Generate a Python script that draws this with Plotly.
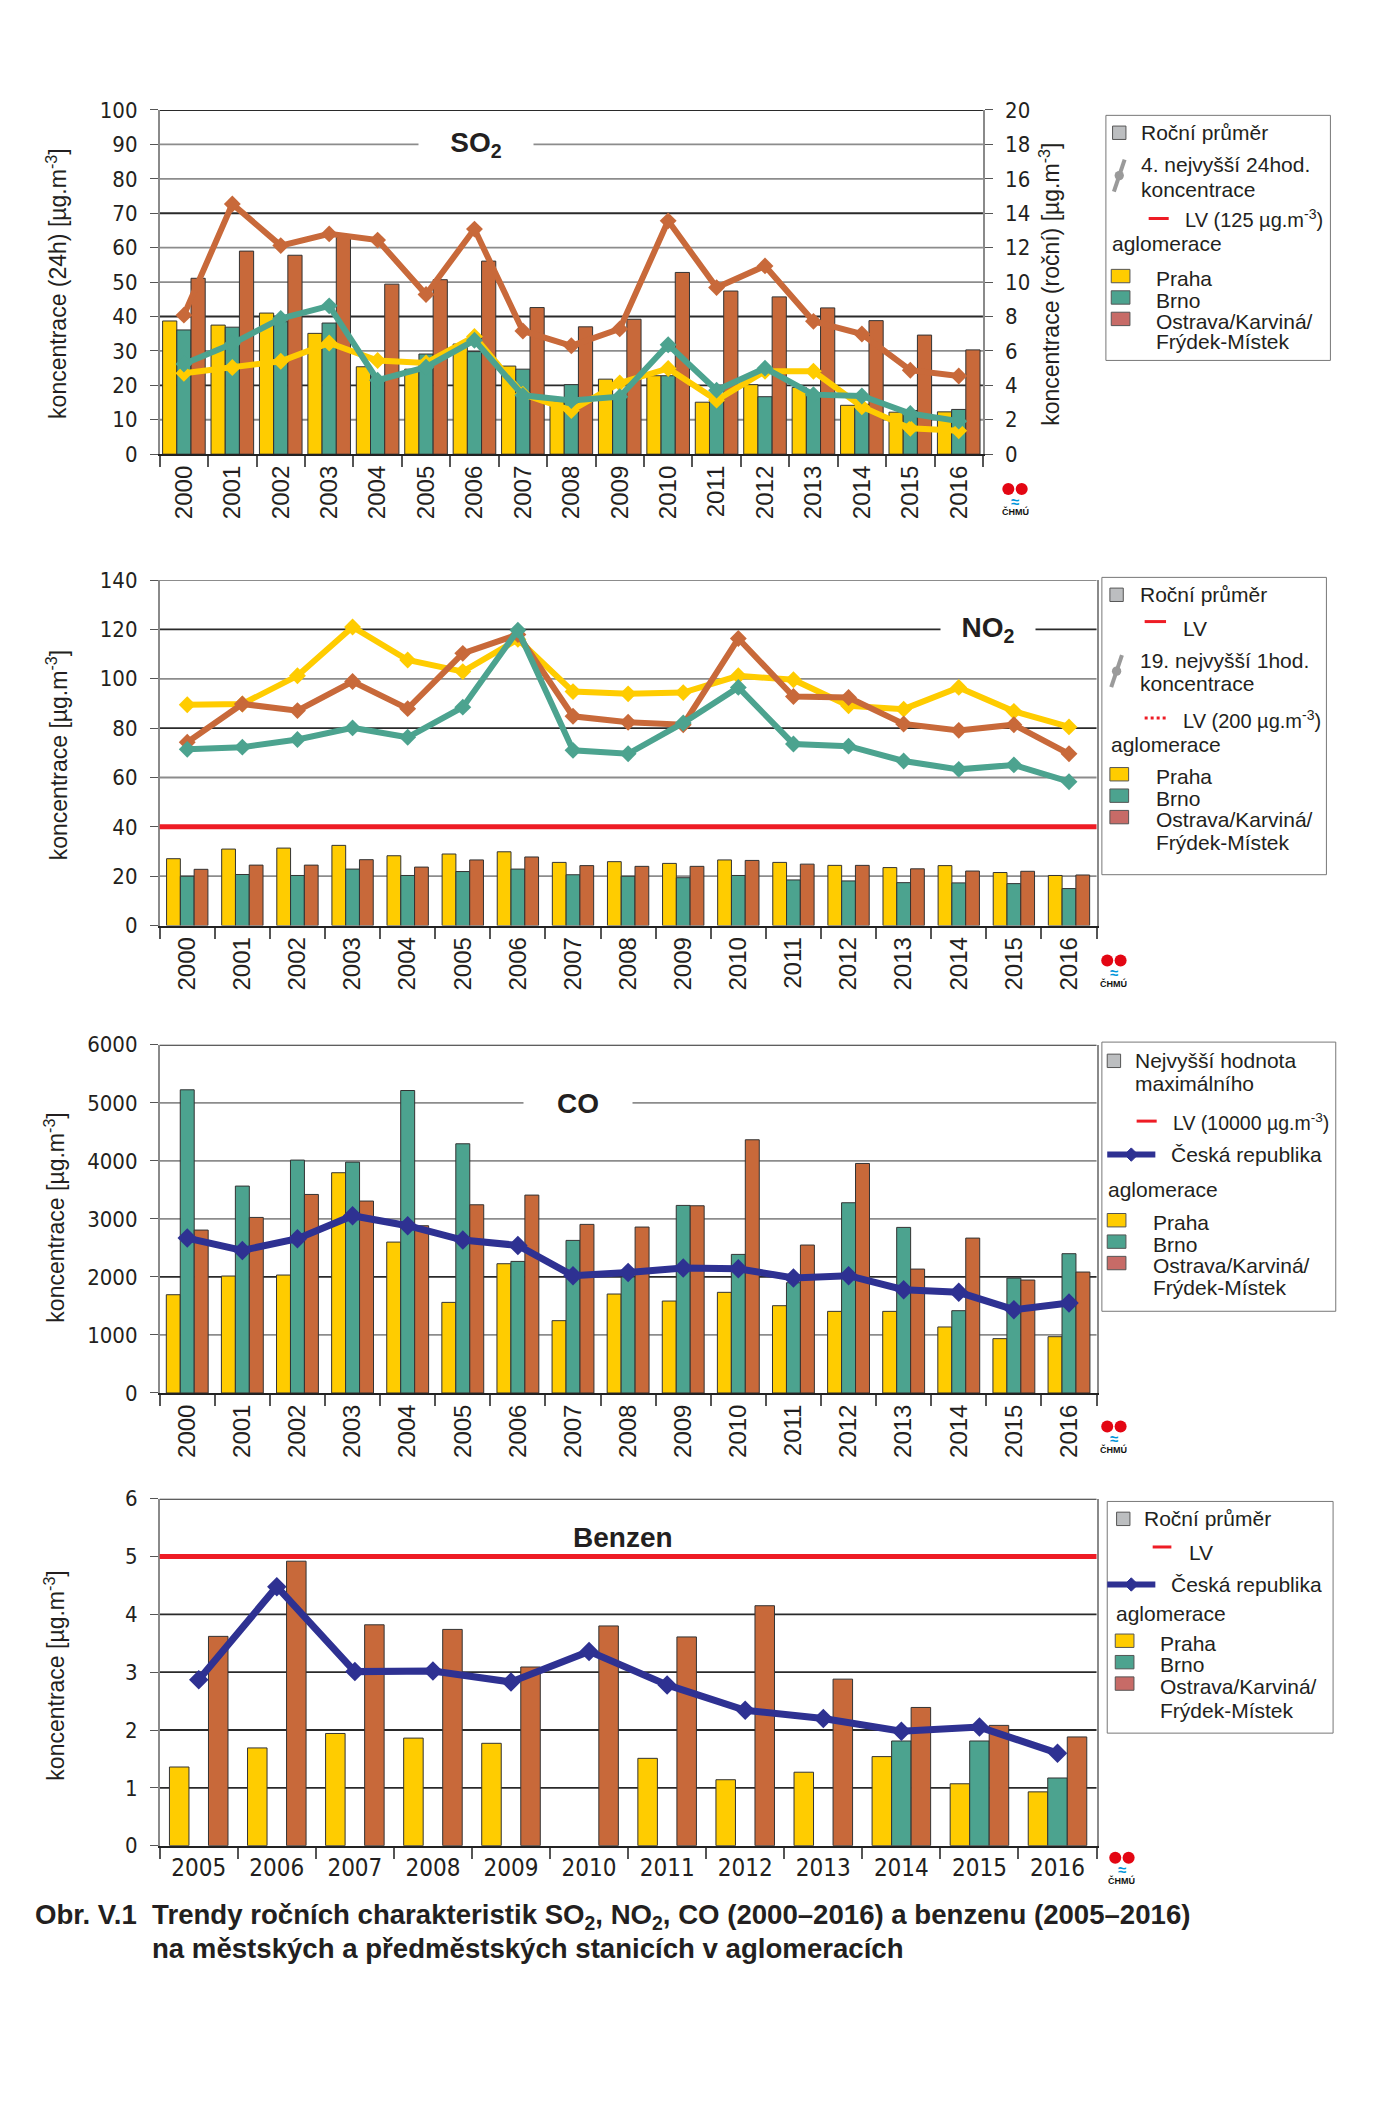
import plotly.graph_objects as go

# ---------------- DATA ----------------
years = [str(y) for y in range(2000, 2017)]
years_bz = [str(y) for y in range(2005, 2017)]

# SO2 - annual average (right axis, µg.m-3)
so2_avg_praha = [7.74, 7.5, 8.2, 7.02, 5.08, 4.94, 6.4, 5.12, 3.1, 4.36, 4.56, 3.02, 4.04, 3.88, 2.84, 2.44, 2.46]
so2_avg_brno = [7.22, 7.38, 7.7, 7.62, 4.5, 5.82, 5.96, 4.94, 4.04, 3.3, 4.56, 3.2, 3.34, 3.5, 2.9, 2.54, 2.6]
so2_avg_ostrava = [10.22, 11.8, 11.56, 12.6, 9.88, 10.14, 11.22, 8.52, 7.4, 7.84, 10.56, 9.48, 9.14, 8.5, 7.76, 6.92, 6.06]
# SO2 - 4th highest 24h concentration (left axis)
so2_24h_praha = [23.5, 25.2, 27.0, 32.3, 27.2, 26.5, 34.2, 17.4, 12.7, 20.7, 24.9, 15.7, 24.1, 24.1, 13.8, 7.5, 6.8]
so2_24h_brno = [26.2, 32.1, 39.4, 43.1, 21.5, 25.3, 33.1, 17.1, 15.6, 16.7, 31.8, 18.6, 25.0, 17.3, 16.9, 11.8, 9.6]
so2_24h_ostrava = [40.4, 72.7, 60.6, 64.0, 62.2, 46.4, 65.4, 35.8, 31.5, 36.4, 67.8, 48.4, 54.7, 38.6, 34.9, 24.4, 22.7]

# NO2 - annual average
no2_avg_praha = [27.1, 31.0, 31.4, 32.5, 28.3, 29.0, 29.9, 25.6, 25.9, 25.2, 26.6, 25.6, 24.4, 23.5, 24.3, 21.5, 20.3]
no2_avg_brno = [20.0, 20.7, 20.3, 22.9, 20.3, 21.9, 22.9, 20.6, 20.0, 19.4, 20.3, 18.5, 18.1, 17.4, 17.3, 17.0, 15.0]
no2_avg_ostrava = [22.8, 24.5, 24.5, 26.7, 23.7, 26.6, 27.8, 24.3, 24.0, 24.0, 26.4, 24.9, 24.4, 23.0, 22.1, 22.0, 20.5]
# NO2 - 19th highest 1h concentration
no2_1h_praha = [89.5, 89.8, 101.2, 121.0, 107.6, 102.9, 116.0, 94.8, 93.9, 94.4, 101.2, 99.6, 89.1, 87.7, 96.5, 86.8, 80.5]
no2_1h_brno = [71.4, 72.3, 75.4, 80.1, 76.3, 88.5, 119.7, 71.0, 69.6, 82.1, 96.5, 73.6, 72.7, 66.7, 63.3, 65.1, 58.3]
no2_1h_ostrava = [74.3, 89.8, 87.1, 98.9, 87.9, 110.3, 117.9, 84.8, 82.4, 81.4, 116.3, 92.8, 92.4, 81.7, 79.1, 81.4, 69.6]
no2_lv = 40

# CO - highest maximum value
co_max_praha = [1693, 2015, 2032, 3795, 2600, 1561, 2227, 1246, 1705, 1584, 1734, 1504, 1406, 1406, 1137, 936, 970]
co_max_brno = [5224, 3565, 4013, 3978, 5212, 4294, 2267, 2629, 2000, 3232, 2388, 1900, 3278, 2853, 1418, 1980, 2400]
co_max_ostrava = [2807, 3025, 3421, 3307, 2882, 3243, 3410, 2905, 2859, 3226, 4363, 2549, 3955, 2135, 2669, 1946, 2084]
co_cr = [2669, 2457, 2658, 3054, 2882, 2635, 2543, 2021, 2078, 2153, 2141, 1981, 2021, 1780, 1734, 1435, 1550]

# Benzene - annual average
bz_praha = [1.36, 1.69, 1.94, 1.86, 1.77, None, 1.51, 1.14, 1.27, 1.54, 1.07, 0.93]
bz_brno = [None, None, None, None, None, None, None, None, None, 1.81, 1.81, 1.17]
bz_ostrava = [3.62, 4.92, 3.82, 3.74, 3.09, 3.80, 3.61, 4.15, 2.88, 2.39, 2.08, 1.88]
bz_cr = [2.87, 4.48, 3.01, 3.02, 2.83, 3.36, 2.78, 2.34, 2.20, 1.98, 2.05, 1.60]
bz_lv = 5

# ---------------- STYLE ----------------
W, H = 1374, 2101
S = W / 1024.0          # layout was measured on a 1024-wide view
HD = H / S

C_PRAHA = "#FFCC00"
C_BRNO = "#4CA38F"
C_OSTR = "#C8693A"
C_OSTR_LEG = "#C76B67"
C_CR = "#2E3192"
C_RED = "#EE1C25"
G_LT = "#8c8c8c"
G_DK = "#2a2a2a"
C_TXT = "#231F20"
FONT = "Liberation Sans, Arial, sans-serif"
NARROW = "Liberation Sans Narrow, Arial Narrow, DejaVu Sans Condensed, Liberation Sans, sans-serif"


def px(xd):
    return ((xd - 3.5) / 1.004) / 1024.0


def py(yd):
    return 1 - ((yd - 13.8) / 0.99) / HD


fig = go.Figure()


def add_bars(xs, series, colors, xa, ya, group):
    w = group / 3.0
    for i, (vals, col) in enumerate(zip(series, colors)):
        fig.add_trace(go.Bar(
            x=xs, y=vals, xaxis=xa, yaxis=ya, width=w, offset=-group / 2 + i * w,
            marker=dict(color=col, line=dict(color="#333333", width=1)),
            showlegend=False, hoverinfo="x+y"))


def add_line(xs, vals, col, xa, ya, lw=6, ms=13):
    fig.add_trace(go.Scatter(
        x=xs, y=vals, xaxis=xa, yaxis=ya, mode="lines+markers",
        line=dict(color=col, width=lw),
        marker=dict(symbol="diamond", size=ms, color=col),
        showlegend=False, hoverinfo="x+y"))


# Panel 1: SO2
add_bars(years, [so2_avg_praha, so2_avg_brno, so2_avg_ostrava], [C_PRAHA, C_BRNO, C_OSTR], "x", "y", 0.88)
add_line(years, so2_24h_praha, C_PRAHA, "x", "y2")
add_line(years, so2_24h_ostrava, C_OSTR, "x", "y2")
add_line(years, so2_24h_brno, C_BRNO, "x", "y2")

# Panel 2: NO2
add_bars(years, [no2_avg_praha, no2_avg_brno, no2_avg_ostrava], [C_PRAHA, C_BRNO, C_OSTR], "x2", "y3", 0.75)
add_line(years, no2_1h_praha, C_PRAHA, "x2", "y3")
add_line(years, no2_1h_ostrava, C_OSTR, "x2", "y3")
add_line(years, no2_1h_brno, C_BRNO, "x2", "y3")

# Panel 3: CO
add_bars(years, [co_max_praha, co_max_brno, co_max_ostrava], [C_PRAHA, C_BRNO, C_OSTR], "x3", "y4", 0.76)
add_line(years, co_cr, C_CR, "x3", "y4", lw=7, ms=15)

# Panel 4: Benzene
add_bars(years_bz, [bz_praha, bz_brno, bz_ostrava], [C_PRAHA, C_BRNO, C_OSTR], "x4", "y5", 0.75)
add_line(years_bz, bz_cr, C_CR, "x4", "y5", lw=7, ms=15)

# ---------------- AXES ----------------
panels = {
    1: dict(x=(117, 733), y=(81, 338)),
    2: dict(x=(117, 818), y=(432, 690)),
    3: dict(x=(117, 818), y=(779, 1039)),
    4: dict(x=(117, 818), y=(1118, 1377)),
}


def xdom(p):
    return [px(panels[p]["x"][0]), px(panels[p]["x"][1])]


def ydom(p):
    return [py(panels[p]["y"][1]), py(panels[p]["y"][0])]


tickfont_y = dict(family=NARROW, size=22, color=C_TXT)
tickfont_x = dict(family=FONT, size=24, color=C_TXT)


def xaxis_cfg(p, anchor, n, rotated=True):
    d = dict(domain=xdom(p), anchor=anchor, type="category", tickson="boundaries",
             range=[-0.5, n - 0.5],
             ticks="outside", ticklen=11, tickcolor="#555", tickwidth=1.5,
             showline=True, linecolor="#222", linewidth=2, showgrid=False,
             tickfont=tickfont_x, fixedrange=True)
    if rotated:
        d["tickangle"] = -90
    else:
        d["tickfont"] = dict(family=NARROW, size=24, color=C_TXT)
    return d


def yaxis_cfg(p, anchor, rng, dtick, side="left", mirror=True):
    return dict(domain=ydom(p), anchor=anchor, range=rng, dtick=dtick, side=side,
                showgrid=False, showline=True, linecolor="#8a8a8a", linewidth=1.5, mirror=mirror,
                ticks="outside", ticklen=8, tickcolor="#555", ticklabelstandoff=8,
                tickfont=tickfont_y, zeroline=False, fixedrange=True)


y2cfg = yaxis_cfg(1, "x", [0, 100], 10, side="left", mirror=False)
y2cfg.pop("domain")
y2cfg["overlaying"] = "y"

fig.update_layout(
    width=W, height=H, margin=dict(l=0, r=0, t=0, b=0),
    paper_bgcolor="white", plot_bgcolor="white", barmode="overlay",
    showlegend=False, font=dict(family=FONT, color=C_TXT),
    xaxis=xaxis_cfg(1, "y", len(years)),
    yaxis=yaxis_cfg(1, "x", [0, 20], 2, side="right", mirror=False),
    yaxis2=y2cfg,
    xaxis2=xaxis_cfg(2, "y3", len(years)),
    yaxis3=yaxis_cfg(2, "x2", [0, 140], 20),
    xaxis3=xaxis_cfg(3, "y4", len(years)),
    yaxis4=yaxis_cfg(3, "x3", [0, 6000], 1000),
    xaxis4=xaxis_cfg(4, "y5", len(years_bz), rotated=False),
    yaxis5=yaxis_cfg(4, "x4", [0, 6], 1),
)

shapes = []
annots = []


# Gridlines (mixed light / dark as in the original print)
def grid(xa, ya, levels, colors):
    for v, c in zip(levels, colors):
        shapes.append(dict(type="line", xref=xa + " domain", yref=ya, x0=0, x1=1, y0=v, y1=v,
                           layer="below", line=dict(color=c, width=1.8)))


grid("x", "y2", [10, 20, 30, 40, 50, 60, 70, 80, 90, 100],
     [G_LT, G_DK, G_LT, G_DK, G_LT, G_LT, G_DK, G_LT, G_LT, G_DK])
grid("x2", "y3", [20, 60, 80, 100, 120, 140],
     [G_LT, G_LT, G_DK, G_LT, G_DK, G_LT])
grid("x3", "y4", [1000, 2000, 3000, 4000, 5000, 6000],
     [G_LT, G_DK, G_LT, G_LT, G_LT, G_DK])
grid("x4", "y5", [1, 2, 3, 4, 6],
     [G_DK, G_DK, G_DK, G_DK, G_DK])

# Limit value lines
shapes.append(dict(type="line", xref="x2 domain", yref="y3", x0=0, x1=1, y0=no2_lv, y1=no2_lv,
                   line=dict(color=C_RED, width=5)))
shapes.append(dict(type="line", xref="x4 domain", yref="y5", x0=0, x1=1, y0=bz_lv, y1=bz_lv,
                   line=dict(color=C_RED, width=5)))


# Panel titles
def title(text, xd, yd, w):
    annots.append(dict(text=text, x=px(xd), y=py(yd), xref="paper", yref="paper",
                       xanchor="center", yanchor="middle",
                       showarrow=False, bgcolor="white" if w else None, width=w,
                       font=dict(family=FONT, size=28, color=C_TXT)))


title("<b>SO<sub>2</sub></b>", 354, 107, 112)
title("<b>NO<sub>2</sub></b>", 737, 469, 92)
title("<b>CO</b>", 430, 823, 106)
title("<b>Benzen</b>", 464, 1147, None)


# Axis titles
def ytitle(text, xd, yd):
    annots.append(dict(text=text, x=px(xd), y=py(yd), xref="paper", yref="paper",
                       xanchor="center", yanchor="middle",
                       showarrow=False, textangle=-90,
                       font=dict(family=FONT, size=23, color=C_TXT)))


ytitle("koncentrace (24h) [µg.m<sup>-3</sup>]", 40, 211)
ytitle("koncentrace (roční) [µg.m<sup>-3</sup>]", 783, 211)
ytitle("koncentrace [µg.m<sup>-3</sup>]", 40, 563)
ytitle("koncentrace [µg.m<sup>-3</sup>]", 38, 908)
ytitle("koncentrace [µg.m<sup>-3</sup>]", 38, 1250)


# ---------------- LEGENDS (drawn) ----------------
def ltext(text, xd, yd, size=21):
    annots.append(dict(text=text, x=px(xd), y=py(yd), xref="paper", yref="paper",
                       xanchor="left", yanchor="middle", showarrow=False,
                       font=dict(family=FONT, size=size, color=C_TXT)))


def box(x0, y0, x1, y1, fill, line="#555", lw=1):
    shapes.append(dict(type="rect", xref="paper", yref="paper",
                       x0=px(x0), x1=px(x1), y0=py(y1), y1=py(y0),
                       fillcolor=fill, line=dict(color=line, width=lw)))


def hline(x0, x1, yd, col, w=3, dash="solid"):
    shapes.append(dict(type="line", xref="paper", yref="paper", x0=px(x0), x1=px(x1),
                       y0=py(yd), y1=py(yd), line=dict(color=col, width=w, dash=dash)))


def grey_symbol(xc, yc):
    shapes.append(dict(type="line", xref="paper", yref="paper", x0=px(xc - 4), x1=px(xc + 4),
                       y0=py(yc + 12), y1=py(yc - 12), line=dict(color="#9a9a9a", width=4)))
    shapes.append(dict(type="circle", xref="paper", yref="paper", x0=px(xc - 3.5), x1=px(xc + 3.5),
                       y0=py(yc + 3.5), y1=py(yc - 3.5), fillcolor="#9a9a9a", line=dict(width=0)))


def cr_symbol(x0, x1, yc):
    hline(x0, x1, yc, C_CR, w=6)
    xm = (x0 + x1) / 2
    d = 5
    shapes.append(dict(type="path", xref="paper", yref="paper",
                       path="M {} {} L {} {} L {} {} L {} {} Z".format(
                           px(xm - d), py(yc), px(xm), py(yc - d), px(xm + d), py(yc), px(xm), py(yc + d)),
                       fillcolor=C_CR, line=dict(color=C_CR, width=1)))


def aglo(x_sq, x_txt, y_hdr, y_p, y_b, y_o, y_o2):
    ltext("aglomerace", x_sq - 1, y_hdr)
    box(x_sq, y_p - 5, x_sq + 14, y_p + 5, C_PRAHA)
    ltext("Praha", x_txt, y_p + 2)
    box(x_sq, y_b - 5, x_sq + 14, y_b + 5, C_BRNO)
    ltext("Brno", x_txt, y_b + 2)
    box(x_sq, y_o - 5, x_sq + 14, y_o + 5, C_OSTR_LEG)
    ltext("Ostrava/Karviná/", x_txt, y_o + 2)
    ltext("Frýdek-Místek", x_txt, y_o2)


# Legend 1 (SO2)
box(825, 85, 993, 268, "white", line="#777")
box(830, 93, 840, 103, "#BCBEC0")
ltext("Roční průměr", 850, 98)
grey_symbol(835, 130)
ltext("4. nejvyšší 24hod.", 850, 122)
ltext("koncentrace", 850, 140)
hline(857, 872, 162, C_RED)
ltext("LV (125 µg.m<sup>-3</sup>)", 883, 162, size=20)
aglo(829, 861, 181, 205, 221, 237, 254)

# Legend 2 (NO2)
box(822, 430, 990, 652, "white", line="#777")
box(828, 438, 838, 448, "#BCBEC0")
ltext("Roční průměr", 849, 443)
hline(854, 870, 463, C_RED)
ltext("LV", 881, 468)
grey_symbol(833, 500)
ltext("19. nejvyšší 1hod.", 849, 492)
ltext("koncentrace", 849, 509)
hline(854, 870, 535, C_RED, dash="dot")
ltext("LV (200 µg.m<sup>-3</sup>)", 881, 536, size=20)
aglo(828, 861, 555, 577, 593, 609, 628)

# Legend 3 (CO)
box(822, 777, 997, 978, "white", line="#777")
box(826, 786, 836, 796, "#BCBEC0")
ltext("Nejvyšší hodnota", 845, 791)
ltext("maximálního", 845, 808)
hline(848, 863, 836, C_RED)
ltext("LV (10000 µg.m<sup>-3</sup>)", 874, 837, size=19.5)
cr_symbol(826, 862, 861)
ltext("Česká republika", 872, 861)
aglo(826, 859, 887, 910, 926, 942, 960)

# Legend 4 (Benzen)
box(826, 1120, 995, 1293, "white", line="#777")
box(833, 1128, 843, 1138, "#BCBEC0")
ltext("Roční průměr", 852, 1133)
hline(860, 874, 1154, C_RED)
ltext("LV", 886, 1158)
cr_symbol(826, 862, 1182)
ltext("Česká republika", 872, 1182)
aglo(832, 864, 1204, 1224, 1240, 1256, 1276)


# ČHMÚ logos
def logo(xc, yc):
    for dx in (-5, 5):
        shapes.append(dict(type="circle", xref="paper", yref="paper",
                           x0=px(xc + dx - 4.5), x1=px(xc + dx + 4.5),
                           y0=py(yc + 4.5), y1=py(yc - 4.5),
                           fillcolor="#E30613", line=dict(width=0)))
    annots.append(dict(text="<b>≈</b>", x=px(xc), y=py(yc + 9), xref="paper", yref="paper",
                       xanchor="center", yanchor="middle",
                       showarrow=False, font=dict(family=FONT, size=15, color="#0095DA")))
    annots.append(dict(text="<b>ČHMÚ</b>", x=px(xc), y=py(yc + 17), xref="paper", yref="paper",
                       xanchor="center", yanchor="middle",
                       showarrow=False, font=dict(family=FONT, size=9, color="#111")))


logo(757, 364)
logo(831, 716)
logo(831, 1064)
logo(837, 1386)

# Caption
annots.append(dict(text="<b>Obr. V.1  Trendy ročních charakteristik SO<sub>2</sub>, NO<sub>2</sub>, CO (2000–2016) a benzenu (2005–2016)</b>",
                   x=px(22), y=py(1430), xref="paper", yref="paper", xanchor="left", yanchor="middle",
                   showarrow=False, font=dict(family=FONT, size=27.6, color=C_TXT)))
annots.append(dict(text="<b>na městských a předměstských stanicích v aglomeracích</b>",
                   x=px(110), y=py(1454), xref="paper", yref="paper", xanchor="left", yanchor="middle",
                   showarrow=False, font=dict(family=FONT, size=27.6, color=C_TXT)))

fig.update_layout(shapes=shapes, annotations=annots)
fig.write_html("out.html")
